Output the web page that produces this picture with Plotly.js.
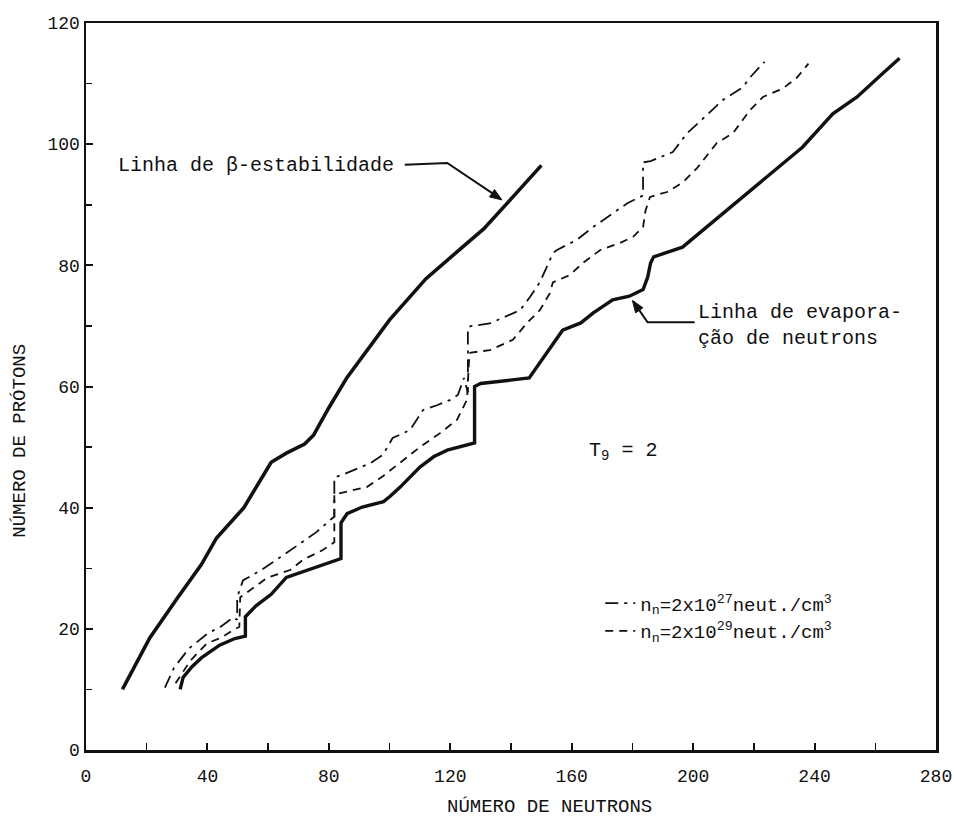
<!DOCTYPE html>
<html>
<head>
<meta charset="utf-8">
<script src="https://cdn.plot.ly/plotly-3.0.1.min.js"></script>
<style>
  html, body { margin: 0; padding: 0; background: #ffffff; }
  #chart { width: 954px; height: 820px; }
</style>
</head>
<body>
<div id="chart"></div>
<script>
// ---- Data (N = neutrons, Z = protons) ----
// Linha de beta-estabilidade
const betaN = [12, 21, 30, 38, 43, 52, 61, 66, 72, 75, 80, 86, 100, 112, 124, 131, 141, 150];
const betaZ = [10, 18.5, 25, 30.6, 35, 40, 47.5, 49, 50.5, 52, 56.5, 61.5, 71, 77.8, 83, 86, 91.5, 96.5];

// Linha de evaporacao de neutrons
const evapN = [31, 32, 35, 38, 44, 49, 52.5, 52.5, 56, 61,
               66, 72, 78, 84, 84, 86, 91, 98, 100, 103.5,
               110, 114.5, 119, 127.5, 128, 128, 130, 146, 148.5, 153,
               157, 163, 167, 173.5, 179, 183.5, 185, 186, 187, 196.5,
               210, 223, 236, 246, 254, 262.5, 268];
const evapZ = [10, 12, 13.8, 15.2, 17.3, 18.4, 18.8, 22, 23.8, 25.7,
               28.5, 29.5, 30.5, 31.6, 37.5, 39, 40.1, 41, 41.8, 43.4,
               46.7, 48.4, 49.5, 50.5, 50.7, 60, 60.5, 61.4, 63.2, 66.5,
               69.3, 70.5, 72.1, 74.3, 74.9, 76, 78, 80.4, 81.4, 83,
               88.6, 94, 99.5, 105, 107.8, 111.7, 114.2];

// n_n = 2x10^27 neut./cm^3 (dash-dot)
const n27N = [26, 29, 34, 40, 44.5, 48.5, 49.8, 49.8, 51.7, 58,
              66, 76, 80.5, 81.8, 81.8, 84.3, 93.5, 97.8, 101, 106.7,
              111, 115.6, 120, 122.5, 124.5, 125.8, 125.8, 127, 133, 143,
              146.3, 149.5, 153.8, 155, 161.7, 167, 173.6, 178.2, 182.5, 183.5,
              183.5, 186, 193.3, 198, 204.5, 209.8, 216.4, 218.7, 223.5];
const n27Z = [10.3, 13.6, 16.8, 19.2, 20.4, 21.9, 21.5, 25.2, 28, 29.8,
              32.5, 36, 38, 38.5, 45, 45.4, 47.3, 48.7, 51.5, 52.8,
              56.1, 56.9, 57.8, 58.6, 61.4, 59, 69.8, 70, 70.4, 72.6,
              74.8, 77.2, 82, 82.5, 84.2, 86.3, 88.6, 90.2, 91.3, 91.5,
              97, 97.2, 98.7, 101.8, 104.8, 107.3, 109.4, 111, 113.6];

// n_n = 2x10^29 neut./cm^3 (dashed)
const n29N = [29.5, 34.3, 39.8, 44.8, 48.4, 50.5, 50.8, 54, 59.6, 67.2,
              71.5, 78, 81.8, 81.8, 83.7, 92.5, 97.8, 102.4, 110, 116.6,
              122.2, 125.5, 126.3, 126.8, 133, 140.6, 145.3, 149.5, 152.8, 153.8,
              159.4, 163.7, 169.3, 175.9, 180.2, 183.5, 184.3, 185.8, 191.4, 196.6,
              201.2, 207.8, 213.1, 218.7, 223, 229.6, 234.2, 238];
const n29Z = [11, 14.7, 17.6, 18.6, 19.8, 20.3, 25.2, 26.4, 28.4, 29.7,
              31.4, 33, 34.3, 42.2, 42.4, 43.4, 45.2, 47, 50, 52.3,
              54.5, 57.8, 65.5, 65.6, 66, 67.7, 70.5, 72.6, 75.4, 77.2,
              78.4, 80.4, 82.5, 83.7, 84.7, 86.3, 89, 91.3, 92.1, 93.7,
              96, 100.2, 101.8, 105.6, 107.8, 109.2, 111, 113.3];

const seriesNames = [
  'n<sub>n</sub>=2x10<sup>27</sup>neut./cm<sup>3</sup>',
  'n<sub>n</sub>=2x10<sup>29</sup>neut./cm<sup>3</sup>'
];
const xTitle = 'NÚMERO DE NEUTRONS';
const yTitle = 'NÚMERO DE PRÓTONS';
const betaLabel = 'Linha de β-estabilidade';
const evapLabel = 'Linha de evapora-<br>ção de neutrons';
const tempLabel = 'T<sub>9</sub> = 2';

// ---- Styling ----
const INK = '#111111';
const MONO = 'Liberation Mono, DejaVu Sans Mono, monospace';

const traces = [
  { x: betaN, y: betaZ, mode: 'lines', showlegend: false, name: 'beta',
    line: { color: INK, width: 3.6 } },
  { x: evapN, y: evapZ, mode: 'lines', showlegend: false, name: 'evap',
    line: { color: INK, width: 3.4 } },
  { x: n27N, y: n27Z, mode: 'lines', name: seriesNames[0],
    line: { color: INK, width: 1.8, dash: '13px,6px,3px,6px' } },
  { x: n29N, y: n29Z, mode: 'lines', name: seriesNames[1],
    line: { color: INK, width: 1.8, dash: '8px,6px' } }
];

const axisCommon = {
  showgrid: false, zeroline: false,
  showline: true, linecolor: INK, linewidth: 2.5, mirror: true,
  ticks: 'inside', ticklen: 7, tickwidth: 2, tickcolor: INK,
  tickfont: { family: MONO, size: 18, color: INK }
};

// leader lines: [x0, y0, x1, y1] in data units; arrowheads drawn as small pixel paths
const leaderStyle = { color: INK, width: 2 };

const layout = {
  width: 954, height: 820,
  margin: { l: 86, r: 18, t: 23, b: 70 },
  paper_bgcolor: '#ffffff', plot_bgcolor: '#ffffff',
  font: { family: MONO, color: INK },
  xaxis: Object.assign({}, axisCommon, {
    range: [0, 280], tick0: 0, dtick: 40,
    ticklabelstandoff: 8,
    minor: { dtick: 20, ticks: 'inside', ticklen: 7, tickwidth: 1.5, tickcolor: INK, showgrid: false }
  }),
  yaxis: Object.assign({}, axisCommon, {
    range: [0, 120], tick0: 0, dtick: 20,
    minor: { dtick: 10, ticks: 'inside', ticklen: 6, tickwidth: 1.5, tickcolor: INK, showgrid: false }
  }),
  showlegend: true,
  legend: {
    x: 0.605, y: 0.228, xanchor: 'left', yanchor: 'top',
    bgcolor: 'rgba(0,0,0,0)', borderwidth: 0,
    font: { family: MONO, size: 19, color: INK },
    tracegroupgap: 0
  },
  shapes: [
    // beta-stability label leader
    { type: 'path', xref: 'x', yref: 'y', path: 'M105,96.6 L119,96.9 L136.5,91', line: leaderStyle },
    { type: 'path', xref: 'x', yref: 'y', xsizemode: 'pixel', ysizemode: 'pixel',
      xanchor: 137, yanchor: 90.8, path: 'M0,0 L-12.4,3.0 L-7.4,10.4 Z',
      fillcolor: INK, line: { color: INK, width: 1 } },
    // evaporation label leader
    { type: 'path', xref: 'x', yref: 'y', path: 'M200.5,70.6 L185,70.6 L180.3,74', line: leaderStyle },
    { type: 'path', xref: 'x', yref: 'y', xsizemode: 'pixel', ysizemode: 'pixel',
      xanchor: 180, yanchor: 74.2, path: 'M0,0 L10.5,-7.3 L3.2,-12.4 Z',
      fillcolor: INK, line: { color: INK, width: 1 } }
  ],
  annotations: [
    { xref: 'paper', yref: 'paper', x: 0.545, y: -0.078, xanchor: 'center', yanchor: 'middle',
      text: xTitle, showarrow: false, font: { family: MONO, size: 19, color: INK } },
    { xref: 'paper', yref: 'paper', x: -0.078, y: 0.425, xanchor: 'center', yanchor: 'middle',
      text: yTitle, textangle: -90, showarrow: false, font: { family: MONO, size: 19, color: INK } },
    { xref: 'x', yref: 'y', x: 9.9, y: 96.5, xanchor: 'left', yanchor: 'middle',
      text: betaLabel, showarrow: false, font: { family: MONO, size: 20, color: INK } },
    { xref: 'x', yref: 'y', x: 201, y: 70.1, xanchor: 'left', yanchor: 'middle', align: 'left',
      text: evapLabel, showarrow: false, font: { family: MONO, size: 20, color: INK } },
    { xref: 'x', yref: 'y', x: 165, y: 49.3, xanchor: 'left', yanchor: 'middle',
      text: tempLabel, showarrow: false, font: { family: MONO, size: 20, color: INK } }
  ]
};

Plotly.newPlot('chart', traces, layout, { staticPlot: true, displayModeBar: false });
</script>
</body>
</html>
